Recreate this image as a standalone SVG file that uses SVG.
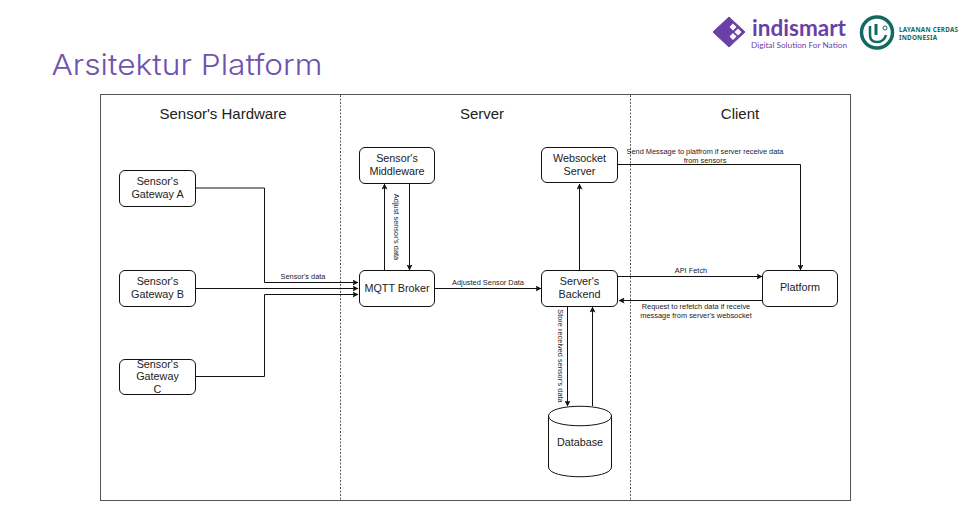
<svg xmlns="http://www.w3.org/2000/svg" width="968" height="512" viewBox="0 0 968 512">
<style>
text{font-family:"Liberation Sans",Arial,sans-serif;fill:#222;text-anchor:middle}
.n{font-size:10.8px}
.h{font-size:15px}
.l{font-size:7.4px}
.b{fill:#fff;stroke:#111;stroke-width:1}
.c{fill:none;stroke:#111;stroke-width:1}
.d{fill:none;stroke:#333;stroke-width:.8;stroke-dasharray:2 1.5}
</style>
<defs><marker id="a" viewBox="0 0 6 6" refX="5.5" refY="3" markerWidth="6" markerHeight="6" markerUnits="userSpaceOnUse" orient="auto"><path d="M0 0L6 3L0 6L1.2 3Z" fill="#111"/></marker></defs>
<rect width="968" height="512" fill="#fff"/>
<text x="187" y="75" textLength="271" lengthAdjust="spacingAndGlyphs" style="font-family:'Inter','Noto Sans',sans-serif;font-weight:300;font-size:29px;fill:#6f52ad">Arsitektur Platform</text>
<g id="logo-indismart">
<path d="M729 17L745 32L729 47L713 32Z" fill="#6b3fa8" stroke="#6b3fa8" stroke-width="1" stroke-linejoin="round"/>
<path d="M733 23.500L736.500 27L733 30.500L729.500 27ZM738 28.500L741.500 32L738 35.500L734.500 32ZM733 33L736.500 36.500L733 40L729.500 36.500Z" fill="#fff"/>
<text x="799" y="36" textLength="94" lengthAdjust="spacingAndGlyphs" style="font-family:'Lato','Noto Sans',sans-serif;font-size:22px;font-weight:700;fill:#6b3fa8">indismart</text>
<text x="799" y="47.500" textLength="96" lengthAdjust="spacingAndGlyphs" style="font-family:'Lato','Noto Sans',sans-serif;font-size:8px;fill:#6b3fa8">Digital Solution For Nation</text>
</g>
<g id="logo-lci">
<circle cx="877" cy="32.500" r="15.500" fill="none" stroke="#11695f" stroke-width="3.500"/>
<path d="M870 26V35Q870 42 877 42Q884 42 886 35" fill="none" stroke="#11695f" stroke-width="2.500"/>
<path d="M876 24V35" fill="none" stroke="#11695f" stroke-width="3"/>
<circle cx="885" cy="28" r="2" fill="none" stroke="#11695f" stroke-width="1"/>
<text x="899" y="32" style="font-family:'Noto Sans',sans-serif;font-size:6.300px;font-weight:700;fill:#11695f;text-anchor:start" textLength="59">LAYANAN CERDAS</text>
<text x="899" y="40" style="font-family:'Noto Sans',sans-serif;font-size:6.300px;font-weight:700;fill:#11695f;text-anchor:start" textLength="38">INDONESIA</text>
</g>
<rect x="100.500" y="94.500" width="750" height="406" fill="#fff" stroke="#555" stroke-width="1"/>
<path class="d" d="M340.500 95V500M630.500 95V500"/>
<text class="h" x="223" y="119">Sensor's Hardware</text>
<text class="h" x="482" y="119">Server</text>
<text class="h" x="740" y="119">Client</text>
<g id="connectors">
<path class="c" marker-end="url(#a)" d="M195 188H264.500V282.500H358"/>
<path class="c" marker-end="url(#a)" d="M195 288.500H358"/>
<path class="c" marker-end="url(#a)" d="M195 376.500H264.500V294.500H358"/>
<path class="c" marker-end="url(#a)" d="M384.500 270V184"/>
<path class="c" marker-end="url(#a)" d="M409.500 183V270"/>
<path class="c" marker-end="url(#a)" d="M435 288.500H541"/>
<path class="c" marker-end="url(#a)" d="M579.500 270V184"/>
<path class="c" marker-end="url(#a)" d="M618 164.500H800.500V270"/>
<path class="c" marker-end="url(#a)" d="M618 276.500H762"/>
<path class="c" marker-end="url(#a)" d="M762 300.500H619"/>
<path class="c" marker-end="url(#a)" d="M567.500 307V406"/>
<path class="c" marker-end="url(#a)" d="M592.500 406V307"/>
</g>
<text class="l" x="303" y="278.500">Sensor's data</text>
<text class="l" x="488" y="284.500">Adjusted Sensor Data</text>
<text class="l" x="691" y="273">API Fetch</text>
<text class="l" x="705" y="153.500">Send Message to platfrom if server receive data</text>
<text class="l" x="705" y="162.500">from sensors</text>
<text class="l" x="696" y="309">Request to refetch data if receive</text>
<text class="l" x="696" y="318">message from server's websocket</text>
<text class="l" transform="translate(393.500 227) rotate(90)">Adjust sensor's data</text>
<text class="l" transform="translate(557.500 356) rotate(90)">Store received sensor's data</text>
<g id="gateway-a"><rect class="b" x="119.500" y="170.500" width="76" height="36" rx="5.500"/><text class="n" x="157.500" y="185">Sensor's</text><text class="n" x="157.500" y="197.500">Gateway A</text></g>
<g id="gateway-b"><rect class="b" x="119.500" y="270.500" width="76" height="36" rx="5.500"/><text class="n" x="157.500" y="285">Sensor's</text><text class="n" x="157.500" y="297.500">Gateway B</text></g>
<g id="gateway-c"><rect class="b" x="119.500" y="359.500" width="76" height="35" rx="5.500"/><text class="n" x="157.500" y="368">Sensor's</text><text class="n" x="157.500" y="380">Gateway</text><text class="n" x="157.500" y="392.500">C</text></g>
<g id="middleware"><rect class="b" x="359.500" y="147.500" width="75" height="36" rx="5.500"/><text class="n" x="397" y="162">Sensor's</text><text class="n" x="397" y="174.500">Middleware</text></g>
<g id="mqtt"><rect class="b" x="359.500" y="270.500" width="75" height="36" rx="5.500"/><text class="n" x="397" y="291.500">MQTT Broker</text></g>
<g id="websocket"><rect class="b" x="541.500" y="147.500" width="76" height="35" rx="5.500"/><text class="n" x="579.500" y="162">Websocket</text><text class="n" x="579.500" y="174.500">Server</text></g>
<g id="backend"><rect class="b" x="541.500" y="270.500" width="76" height="36" rx="5.500"/><text class="n" x="579.500" y="285">Server's</text><text class="n" x="579.500" y="298">Backend</text></g>
<g id="platform"><rect class="b" x="762.500" y="270.500" width="75" height="36" rx="5.500"/><text class="n" x="800" y="291">Platform</text></g>
<g id="database"><path class="b" d="M548.500 416V467C548.500 480 611.500 480 611.500 467V416C611.500 403 548.500 403 548.500 416C548.500 429 611.500 429 611.500 416"/><text class="n" x="580" y="446">Database</text></g>
</svg>
